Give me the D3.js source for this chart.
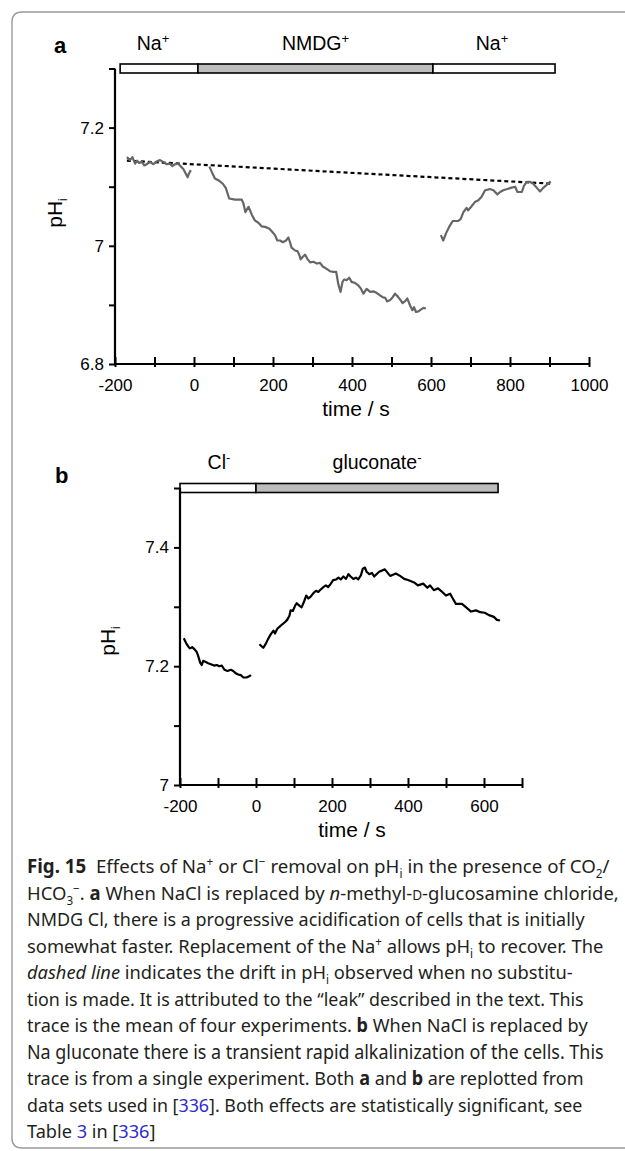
<!DOCTYPE html>
<html><head><meta charset="utf-8">
<script src="https://cdn.jsdelivr.net/npm/d3@7/dist/d3.min.js"></script>
<style>
html,body{margin:0;padding:0;background:#fff;}
svg{display:block;}
</style></head>
<body>
<script>
// ---------------- DATA ----------------
// Panel a: solution bar (time boundaries, s) and labels
const aBarEdges = [-187, 10, 605, 914];
const aBarLabels = ["Na", "NMDG", "Na"];
const aBarSup = ["+", "+", "+"];
const aBarFill = ["#ffffff", "#bdbdbd", "#ffffff"];
// Panel a trace (time s, pHi), three pieces
const aTrace1 = [[-170,7.150],[-162,7.145],[-156,7.150],[-149,7.139],[-144,7.144],[-139,7.140],[-132,7.142],[-126,7.136],[-120,7.138],[-111,7.142],[-103,7.138],[-94,7.143],[-86,7.145],[-78,7.142],[-69,7.138],[-61,7.139],[-55,7.135],[-48,7.138],[-40,7.139],[-33,7.134],[-27,7.130],[-23,7.125],[-16,7.116],[-13,7.122],[-8,7.128]];
const aTrace2 = [[39,7.134],[45,7.125],[53,7.114],[64,7.110],[73,7.105],[81,7.097],[89,7.080],[104,7.078],[121,7.078],[125,7.072],[130,7.057],[138,7.066],[142,7.060],[146,7.053],[154,7.043],[163,7.039],[171,7.033],[180,7.032],[191,7.029],[199,7.023],[205,7.018],[211,7.009],[218,7.009],[225,7.006],[233,7.009],[239,7.014],[243,7.006],[247,6.997],[256,6.992],[262,6.991],[267,6.984],[270,6.977],[275,6.981],[281,6.985],[287,6.978],[294,6.972],[302,6.973],[311,6.970],[319,6.971],[326,6.965],[336,6.961],[344,6.957],[353,6.956],[360,6.956],[365,6.936],[371,6.922],[376,6.939],[380,6.943],[387,6.942],[393,6.946],[399,6.939],[408,6.937],[416,6.933],[423,6.927],[429,6.919],[437,6.927],[446,6.922],[454,6.923],[463,6.920],[471,6.916],[478,6.913],[484,6.912],[489,6.906],[496,6.908],[503,6.913],[509,6.919],[516,6.914],[522,6.909],[528,6.903],[534,6.906],[540,6.911],[547,6.899],[553,6.891],[557,6.896],[562,6.888],[568,6.889],[574,6.892],[581,6.895],[587,6.894]];
const aTrace3 = [[625,7.018],[631,7.009],[638,7.021],[646,7.032],[655,7.042],[669,7.042],[675,7.045],[682,7.057],[690,7.064],[694,7.060],[703,7.067],[711,7.074],[720,7.077],[728,7.083],[737,7.094],[749,7.096],[758,7.094],[768,7.087],[775,7.091],[783,7.094],[793,7.096],[802,7.098],[813,7.100],[819,7.091],[830,7.091],[835,7.101],[842,7.108],[851,7.108],[859,7.105],[868,7.098],[876,7.092],[884,7.098],[893,7.103],[903,7.109]];
// Panel a drift (dashed line)
const aDrift = [[-170,7.144],[909,7.105]];
const aXTicks = [-200,-100,0,100,200,300,400,500,600,700,800,900,1000];
const aXLabels = [-200,0,200,400,600,800,1000];
const aYTicks = [6.8,6.9,7.0,7.1,7.2,7.3];
const aYLabels = [6.8,7.0,7.2];

// Panel b
const bBarEdges = [-200, 0, 637];
const bBarLabels = ["Cl", "gluconate"];
const bBarSup = ["-", "-"];
const bBarFill = ["#ffffff", "#bdbdbd"];
const bTrace1 = [[-190,7.247],[-184,7.239],[-178,7.233],[-174,7.230],[-168,7.232],[-161,7.228],[-156,7.224],[-152,7.217],[-147,7.206],[-143,7.202],[-139,7.209],[-132,7.207],[-126,7.205],[-117,7.203],[-110,7.201],[-103,7.202],[-97,7.200],[-90,7.201],[-83,7.194],[-75,7.192],[-66,7.194],[-60,7.192],[-53,7.188],[-47,7.186],[-40,7.185],[-33,7.181],[-25,7.181],[-18,7.183],[-13,7.185]];
const bTrace2 = [[9,7.237],[19,7.231],[26,7.238],[32,7.246],[39,7.254],[46,7.260],[50,7.255],[56,7.263],[63,7.267],[70,7.271],[76,7.274],[82,7.278],[88,7.285],[91,7.294],[97,7.293],[103,7.302],[107,7.306],[114,7.302],[120,7.299],[126,7.308],[132,7.319],[138,7.314],[144,7.317],[151,7.323],[158,7.327],[164,7.325],[170,7.329],[177,7.333],[184,7.336],[190,7.333],[197,7.339],[203,7.345],[211,7.346],[217,7.349],[223,7.346],[230,7.351],[237,7.347],[243,7.355],[249,7.351],[256,7.347],[263,7.349],[269,7.346],[276,7.353],[281,7.364],[287,7.366],[291,7.359],[298,7.355],[305,7.357],[311,7.351],[324,7.359],[339,7.363],[353,7.352],[368,7.356],[379,7.352],[390,7.347],[400,7.345],[416,7.341],[426,7.336],[440,7.339],[451,7.332],[458,7.336],[468,7.328],[479,7.331],[490,7.325],[500,7.319],[511,7.322],[516,7.316],[526,7.305],[542,7.305],[553,7.299],[566,7.292],[579,7.294],[590,7.291],[602,7.290],[613,7.286],[626,7.283],[634,7.278],[642,7.277]];
const bXTicks = [-200,-100,0,100,200,300,400,500,600,700];
const bXLabels = [-200,0,200,400,600];
const bYTicks = [7.0,7.1,7.2,7.3,7.4,7.5];
const bYLabels = [7.0,7.2,7.4];

const xTitle = "time / s";
const yTitle = "pH";
const yTitleSub = "i";

// ---------------- DRAW ----------------
const W = 625, H = 1151;
const FONT = "'Liberation Sans', Arial, Helvetica, sans-serif";
const svg = d3.select("body").append("svg").attr("width", W).attr("height", H)
  .style("font-family", FONT);

// figure frame
svg.append("path")
  .attr("d", "M 700 12 H 22 Q 12 12 12 22 V 1138 Q 12 1148 22 1148 H 700")
  .attr("fill", "none").attr("stroke", "#9a9a9a").attr("stroke-width", 1.4);

function drawPanel(cfg) {
  const g = svg.append("g");
  const x = d3.scaleLinear().domain(cfg.xDomain).range(cfg.xRange);
  const y = d3.scaleLinear().domain(cfg.yDomain).range(cfg.yRange);

  // panel letter
  g.append("text").attr("x", cfg.letterPos[0]).attr("y", cfg.letterPos[1])
    .attr("font-weight", "bold").attr("font-size", 22).text(cfg.letter);

  // solution bar
  const edges = cfg.barEdges;
  const barY = y(cfg.yDomain[1]);
  for (let i = 0; i < edges.length - 1; i++) {
    g.append("rect")
      .attr("x", x(edges[i])).attr("y", barY - 4.5)
      .attr("width", x(edges[i + 1]) - x(edges[i])).attr("height", 9)
      .attr("fill", cfg.barFill[i]).attr("stroke", "#000").attr("stroke-width", 1.6);
    const t = g.append("text")
      .attr("x", (x(edges[i]) + x(edges[i + 1])) / 2 + cfg.labelShift[i])
      .attr("y", barY - 19).attr("text-anchor", "middle").attr("font-size", 19.5);
    t.append("tspan").text(cfg.barLabels[i]);
    t.append("tspan").attr("dy", -7).attr("font-size", 13).text(cfg.barSup[i]);
  }

  // y axis
  const yAxis = d3.axisLeft(y).tickValues(cfg.yTicks).tickSize(6).tickPadding(5)
    .tickFormat(d => cfg.yLabels.some(v => Math.abs(v - d) < 1e-9) ? String(+d.toFixed(1)) : "");
  const ya = g.append("g").attr("transform", `translate(${cfg.xRange[0]},0)`).call(yAxis);
  ya.select(".domain").attr("d", `M0,${cfg.yRange[1]}V${cfg.yRange[0]}`)
    .attr("stroke-width", 2.2);
  ya.selectAll(".tick line").attr("stroke-width", 2);
  ya.selectAll(".tick text").attr("font-size", 17).attr("font-family", FONT).attr("fill", "#000");

  // x axis
  const xAxis = d3.axisBottom(x).tickValues(cfg.xTicks).tickSize(0).tickPadding(15)
    .tickFormat(d => cfg.xLabels.includes(d) ? String(d) : "");
  const xa = g.append("g").attr("transform", `translate(0,${cfg.yRange[0]})`).call(xAxis);
  xa.select(".domain").attr("d", `M${cfg.xRange[0]},0H${cfg.xRange[1]}`).attr("stroke-width", 2.2);
  xa.selectAll(".tick line").attr("y1", 3).attr("y2", -7).attr("stroke-width", 2);
  xa.selectAll(".tick text").attr("font-size", 17).attr("font-family", FONT).attr("fill", "#000");

  // axis titles
  g.append("text").attr("x", (cfg.xRange[0] + cfg.xRange[1]) / 2 + cfg.xTitleShift)
    .attr("y", cfg.yRange[0] + 52).attr("text-anchor", "middle")
    .attr("font-size", 21).text(xTitle);
  const yt = g.append("text")
    .attr("transform", `translate(${cfg.yTitlePos[0]},${cfg.yTitlePos[1]}) rotate(-90)`)
    .attr("text-anchor", "middle").attr("font-size", 21);
  yt.append("tspan").text(yTitle);
  yt.append("tspan").attr("dy", 5).attr("font-size", 12).text(yTitleSub);

  // drift line
  if (cfg.drift) {
    g.append("path").datum(cfg.drift)
      .attr("d", d3.line().x(d => x(d[0])).y(d => y(d[1])))
      .attr("fill", "none").attr("stroke", "#000").attr("stroke-width", 2.2)
      .attr("stroke-dasharray", "4,3");
  }
  // traces
  const line = d3.line().x(d => x(d[0])).y(d => y(d[1]));
  cfg.traces.forEach(tr => {
    g.append("path").datum(tr).attr("d", line)
      .attr("fill", "none").attr("stroke", cfg.traceColor).attr("stroke-width", 2.2)
      .attr("stroke-linejoin", "round");
  });
}

drawPanel({
  letter: "a", letterPos: [54, 53],
  xDomain: [-200, 1000], xRange: [115, 589],
  yDomain: [6.8, 7.3], yRange: [364, 68.5],
  barEdges: aBarEdges, barLabels: aBarLabels, barSup: aBarSup, barFill: aBarFill,
  labelShift: [-6, 0, -2],
  xTicks: aXTicks, xLabels: aXLabels, yTicks: aYTicks, yLabels: aYLabels,
  xTitleShift: 4, yTitlePos: [62, 213],
  drift: aDrift, traces: [aTrace1, aTrace2, aTrace3], traceColor: "#666666"
});

drawPanel({
  letter: "b", letterPos: [55, 483],
  xDomain: [-200, 700], xRange: [180, 522],
  yDomain: [7.0, 7.5], yRange: [785, 488],
  barEdges: bBarEdges, barLabels: bBarLabels, barSup: bBarSup, barFill: bBarFill,
  labelShift: [1, 0],
  xTicks: bXTicks, xLabels: bXLabels, yTicks: bYTicks, yLabels: bYLabels,
  xTitleShift: 1, yTitlePos: [115, 641],
  drift: null, traces: [bTrace1, bTrace2], traceColor: "#000000"
});

// ---------------- CAPTION ----------------
const capFont = "'Noto Sans', 'Open Sans', sans-serif";
const BLUE = "#2b2bd0";
// each segment: [text, style] where style: b bold, i italic, sup, sub, sc small caps, l link
const captionLines = [
  [["Fig. 15", "b"], ["  Effects of Na"], ["+", "sup"], [" or Cl"], ["\u2212", "sup"], [" removal on pH"], ["i", "sub"], [" in the presence of CO"], ["2", "sub"], ["/"]],
  [["HCO"], ["3", "sub"], ["\u2212", "sup"], [". "], ["a", "b"], [" When NaCl is replaced by "], ["n", "i"], ["-methyl-"], ["D", "sc"], ["-glucosamine chloride,"]],
  [["NMDG Cl, there is a progressive acidification of cells that is initially"]],
  [["somewhat faster. Replacement of the Na"], ["+", "sup"], [" allows pH"], ["i", "sub"], [" to recover. The"]],
  [["dashed line", "i"], [" indicates the drift in pH"], ["i", "sub"], [" observed when no substitu-"]],
  [["tion is made. It is attributed to the \u201cleak\u201d described in the text. This"]],
  [["trace is the mean of four experiments. "], ["b", "b"], [" When NaCl is replaced by"]],
  [["Na gluconate there is a transient rapid alkalinization of the cells. This"]],
  [["trace is from a single experiment. Both "], ["a", "b"], [" and "], ["b", "b"], [" are replotted from"]],
  [["data sets used in ["], ["336", "l"], ["]. Both effects are statistically significant, see"]],
  [["Table "], ["3", "l"], [" in ["], ["336", "l"], ["]"]]
];
const capRight = [610, 619, 585, 604, 573, 584, 588, 604, 584, 583, null];
const capLeft = 27, capBase0 = 873, capStep = 26.5, capSize = 19;

const scales = [];
const texts = [];
captionLines.forEach((segs, li) => {
  const t = svg.append("text")
    .attr("x", 0).attr("y", 0)
    .attr("font-family", capFont).attr("font-size", capSize).attr("fill", "#231f20")
    .attr("xml:space", "preserve").style("white-space", "pre");
  let shift = 0;
  segs.forEach(([s, st]) => {
    const ts = t.append("tspan").text(s);
    let dy = 0;
    if (st === "sup") { dy = -7; ts.attr("font-size", 12); }
    else if (st === "sub") { dy = 5; ts.attr("font-size", 12); }
    if (st === "b") ts.attr("font-weight", "bold");
    if (st === "i") ts.attr("font-style", "italic");
    if (st === "sc") ts.attr("font-size", 14);
    if (st === "l") ts.attr("fill", BLUE);
    if (dy - shift !== 0) ts.attr("dy", dy - shift);
    shift = dy;
  });
  if (shift !== 0) t.append("tspan").attr("dy", -shift).text("");
  const w = t.node().getComputedTextLength();
  texts.push(t);
  scales.push(capRight[li] ? (capRight[li] - capLeft) / w : null);
});
const valid = scales.filter(s => s);
const avgScale = d3.mean(valid);
texts.forEach((t, li) => {
  const s = scales[li] || avgScale;
  t.attr("transform", `translate(${capLeft},${capBase0 + li * capStep}) scale(${s},1)`);
});
</script>
</body></html>
